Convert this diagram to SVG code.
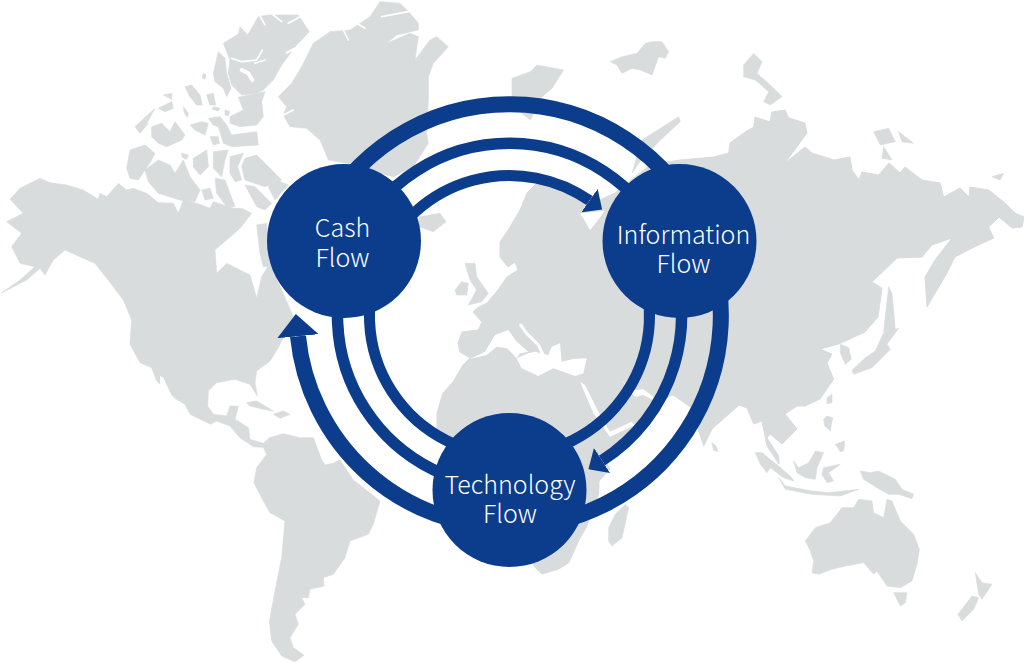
<svg xmlns="http://www.w3.org/2000/svg" width="1024" height="663" viewBox="0 0 1024 663">
<style>
.land{fill:#d9dcdd;stroke:#d9dcdd;stroke-width:1;stroke-linejoin:round}
.z3 .land{stroke-width:2}
.sea{fill:#fff}
.chan{fill:none;stroke:#fff;stroke-width:5;stroke-linejoin:round;stroke-linecap:round}
.arc{fill:none;stroke:#0b3d8c}
.a1{stroke-width:16}
.a2{stroke-width:11.5}
.a3{stroke-width:11}
.node{fill:#0b3d8c}
.lbl{fill:#fff;font-family:"Noto Sans CJK JP","Noto Sans",sans-serif;font-weight:300;font-size:25px;text-anchor:middle}
</style>
<defs>
<marker id="head" markerUnits="strokeWidth" markerWidth="1.4" markerHeight="2.6" viewBox="0 0 1.4 2.6" refX="0" refY="1.3" orient="auto"><path d="M0,0L1.4,1.3L0,2.6Z" fill="#0b3d8c"/></marker>
</defs>
<rect width="1024" height="663" fill="#fff"/>
<g id="map">
<g class="z3" transform="scale(.33333)">
<polygon class="land" points="30,598 60,565 120,535 150,548 200,555 250,570 295,598 300,580 320,590 355,550 380,570 400,565 440,580 475,608 520,610 535,640 550,600 590,610 630,625 640,605 700,625 725,625 755,640 720,685 645,750 650,820 680,790 750,825 770,895 785,830 810,790 880,950 835,1043 810,1083 770,1113 765,1148 772,1188 750,1153 705,1138 650,1148 625,1173 623,1218 640,1243 680,1248 690,1218 715,1218 705,1258 745,1283 750,1318 790,1330 808,1313 850,1301 900,1313 940,1313 965,1380 975,1395 1000,1390 1020,1380 1060,1440 1140,1503 1120,1573 1105,1603 1050,1623 1035,1673 1000,1723 970,1733 972,1758 930,1768 925,1793 905,1793 915,1813 885,1843 895,1873 870,1913 880,1943 912,1966 885,1985 845,1968 815,1923 808,1865 825,1773 845,1673 855,1563 810,1538 790,1503 762,1448 770,1403 800,1363 790,1342 760,1340 720,1313 690,1278 650,1263 632,1273 570,1243 555,1213 525,1195 470,1143 455,1103 420,1088 390,1033 395,960 370,900 340,860 285,790 240,770 195,750 160,780 135,825 120,805 80,840 3,880 60,840 105,800 60,790 35,740 65,700 20,665 70,640"/>
<polygon class="sea" points="480,1128 490,1133 525,1208 510,1198 480,1153"/>
<polygon class="land" points="770,675 800,670 810,800 790,800 780,760"/>
<polygon class="land" points="740,1208 770,1203 820,1233 790,1228 750,1218"/>
<polygon class="land" points="820,1243 850,1233 870,1243 840,1255"/>
<polygon class="land" points="835,290 875,250 905,200 940,130 990,95 1050,90 1110,50 1140,5 1200,10 1230,40 1255,70 1255,90 1190,105 1160,130 1230,100 1255,110 1245,180 1290,120 1310,110 1345,140 1300,190 1285,230 1285,300 1280,400 1285,430 1240,500 1180,530 1100,510 1040,490 985,480 960,420 920,385 870,380 850,345 860,320"/>
<polyline class="chan" points="1145,50 1225,35"/>
<polyline class="chan" points="1030,90 1045,120"/>
<polyline class="chan" points="1070,70 1095,85"/>
<polyline class="chan" points="850,345 880,330"/>
<polygon class="land" points="1258,650 1320,640 1338,665 1300,695 1258,680"/>
<polygon class="land" points="1365,870 1385,845 1405,850 1400,885 1370,885"/>
<polygon class="land" points="1395,790 1425,790 1430,830 1465,880 1445,905 1405,915 1430,870 1410,840"/>
<polygon class="land" points="1536,235 1591,215 1611,195 1691,210 1656,265 1626,290 1591,360 1566,340 1536,290"/>
<polygon class="land" points="1831,185 1866,170 1911,160 1936,130 1956,125 1986,125 2006,155 1996,175 1976,170 1956,225 1921,210 1896,205 1866,220 1851,195"/>
<polygon class="land" points="2231,195 2261,160 2286,185 2271,220 2311,255 2346,290 2311,315 2291,305 2306,275 2266,240 2231,230"/>
<polygon class="land" points="1926,420 2036,350 2041,365 1976,425 1916,490 1896,520"/>
<polygon class="land" points="2621,395 2666,385 2686,425 2641,435"/>
<polygon class="land" points="2696,395 2741,430 2706,425"/>
<polygon class="land" points="2651,440 2676,480 2646,475"/>
<polygon class="land" points="2976,530 3011,520 3000,540"/>
<polygon class="land" points="2651,996 2666,860 2676,880 2686,990"/>
<g transform="translate(1536,993)">
<polygon class="land" points="340,520 350,530 330,620 300,645 290,630 290,590 310,550"/>
<polygon class="land" points="600,335 612,345 618,362 605,358"/>
<polygon class="land" points="730,365 750,365 780,390 800,405 840,440 845,450 815,440 775,410 765,425 745,400"/>
<polygon class="land" points="800,440 820,465 900,480 950,485 1040,475 985,495 900,490 820,475"/>
<polygon class="land" points="845,390 860,410 890,395 910,360 935,365 915,410 910,445 880,440 855,425"/>
<polygon class="land" points="935,410 985,400 950,425 965,450 945,455 930,430"/>
<polygon class="land" points="945,200 960,190 960,215 945,218"/>
<polygon class="land" points="945,255 962,260 955,300 938,285 935,265"/>
<polygon class="land" points="970,340 998,330 995,360 985,362"/>
<polygon class="land" points="1045,420 1075,425 1100,420 1150,445 1170,475 1205,490 1200,503 1160,490 1130,490 1095,470 1055,445"/>
<polygon class="land" points="880,630 910,590 955,575 990,530 1025,530 1040,505 1080,510 1085,545 1115,560 1125,505 1140,510 1165,570 1205,610 1222,655 1215,700 1200,750 1165,770 1125,765 1095,720 1085,730 1055,695 1000,705 960,715 920,730 900,725 905,690 895,660"/>
<polygon class="land" points="1145,785 1185,785 1180,815 1165,825"/>
<polygon class="land" points="1390,725 1410,755 1440,760 1410,805 1400,790"/>
<polygon class="land" points="1380,795 1400,800 1385,835 1350,870 1338,850"/>
<polygon class="land" points="1025,130 1020,118 1060,80 1090,60 1115,5 1160,-8 1125,40 1135,55 1080,110"/>
<polygon class="land" points="985,40 1010,50 1018,85 1000,100 985,65"/>
</g>
</g>
<g class="z3" transform="translate(125,10) scale(.33333)">
<polygon class="land" points="295,100 340,72 345,50 368,75 400,20 430,15 520,15 553,65 515,105 500,125 470,165 445,210 415,240 395,250 350,255 320,225 310,190 315,150"/>
<polyline class="chan" points="320,145 350,155 395,150 412,120"/>
<polyline class="chan" points="390,160 420,150"/>
<polyline class="chan" style="stroke-width:12" points="350,180 370,190 382,210"/>
<polyline class="chan" points="405,18 420,45"/>
<polyline class="chan" points="445,15 470,35"/>
<polyline class="chan" points="490,40 525,20"/>
<polyline class="chan" style="stroke-width:7" points="485,128 530,105 556,90"/>
<polygon class="land" points="280,125 300,145 305,190 318,235 305,260 295,235 270,215 265,190"/>
<polygon class="land" points="180,230 200,225 225,255 232,285 215,285 195,260"/>
<polygon class="land" points="245,255 265,250 272,285 255,285"/>
<polygon class="land" points="235,190 243,195 240,208 232,205"/>
<polygon class="land" points="265,290 285,295 280,303 262,298"/>
<polygon class="land" points="300,300 315,305 310,318 300,315"/>
<polygon class="land" points="340,262 420,245 410,275 415,320 395,345 345,350 315,340 315,320 355,300"/>
<polygon class="land" points="5,475 15,420 60,405 90,430 80,450 40,510 15,505"/>
<polygon class="land" points="30,350 90,295 60,350 70,340 45,370"/>
<polygon class="land" points="100,295 140,275 145,295 120,305"/>
<polygon class="land" points="115,255 140,250 140,268"/>
<polygon class="land" points="80,350 110,340 135,365 150,335 180,375 170,390 125,410 100,400 80,380"/>
<polygon class="land" points="175,290 190,310 187,322 178,310"/>
<polygon class="land" points="195,345 230,335 250,340 240,375 210,360"/>
<polygon class="land" points="250,325 285,320 305,345 320,375 395,365 400,405 320,410 295,400 280,350 265,345"/>
<polygon class="land" points="255,380 280,380 283,400 265,405"/>
<polygon class="land" points="60,480 100,450 135,465 150,490 175,450 195,500 225,540 210,575 165,570 100,550 70,515"/>
<polygon class="land" points="265,425 310,420 300,450 290,500 265,475"/>
<polygon class="land" points="205,445 245,420 250,470 225,495 205,470"/>
<polygon class="land" points="315,440 355,430 338,470 350,510 330,515 315,490"/>
<polygon class="land" points="360,445 395,435 450,490 470,510 420,530 360,510 350,470"/>
<polygon class="land" points="170,430 190,435 185,448 172,442"/>
<polygon class="land" points="270,505 300,510 330,590 305,590 275,550"/>
<polygon class="land" points="360,525 390,530 420,560 440,580 420,600 395,590"/>
<polygon class="land" points="440,505 490,525 450,570 430,530"/>
<polygon class="land" points="230,540 255,535 265,565 240,570"/>
</g>
<polygon class="land" points="527,193 537,183 555,181 575,187 590,197 600,200 615,193 650,165 680,160 713.7,157 728.7,153 730,143 745,132 753.7,127 755,117 770,122 772,112 785,110 788.7,118 805,123 807,133 785,163 805,147 812,153 834,160 850,157 852,170 859,180 862,172 878.7,175 889,163 900,173 905,167 922,180 940,183 943.7,197 960,188 969,197 970,187 988.7,190 1005,203 1015,213 1024,217 1022,227 1012,228 999,217 988.7,227 993.7,238 972,248 955,257 947,273 927,307 925,277 935,260 952,238 932,245 922,257 897,258 872,282 882,288 878,317 865,332 838.7,344 820,349 832,354 827,363 833.7,379 820,399 805,406 797,406 785,414 797,429 782,444 770,434 767,438 778.7,456 779,464 767,446 762,421 753.7,424 747,408 739,405 712,429 703.7,446 698.7,431 692,408 673,395 658,401 631,437 605,460 610,469 599,481 598.7,494 586,528 580,538 568.7,562.7 558.7,569 542,574 535.3,567.7 520,540 480,480 437,431 437,413 443,393 453,382 463,365 470,358 460,352 458,343 462,332 478,330 482,322 473,312 477,308 487,303 498,290 500,287 507,277 518,270 515,262 508,267 500,257 500,242 510,227 520,210"/>
<g transform="translate(420,290) scale(.33333)">
<polygon class="sea" points="150,207 195,185 225,135 265,120 290,155 325,185 300,190 290,205 262,175 230,170 200,195"/>
<polygon class="sea" points="290,205 305,235 355,258 400,235 465,258 490,250 500,205 460,207 425,215 420,160 395,170 385,195 345,185 325,190"/>
<polyline class="chan" style="stroke-width:9" points="302,105 320,130 355,165 372,200"/>
</g>
<g transform="translate(560,300) scale(.33333)">
<polygon class="sea" points="60,245 75,255 120,345 150,395 215,365 225,375 150,410 135,390 100,340"/>
<polygon class="sea" points="185,240 205,262 225,270 250,268 285,295 320,295 320,305 280,300 250,285 225,290 205,270"/>
</g>
<g transform="translate(420,170) scale(.33333)">
<polygon class="sea" points="480,130 555,122 530,155 510,180 490,145"/>
</g>
</g>
<g id="connectors">
<path class="arc a1" d="M316.6,228.8A211.5,211.5 0 0 1 703,230.5"/>
<path class="arc a2" d="M352.6,245A172,172 0 0 1 667,246"/>
<path class="arc a3" d="M381.8,258A140,140 0 0 1 589.5,200.6" marker-end="url(#head)"/>
<path class="arc a1" d="M703,230.5A211.5,211.5 0 0 1 509.5,527"/>
<path class="arc a2" d="M667,246A172,172 0 0 1 602,460.5" marker-end="url(#head)"/>
<path class="arc a3" d="M637.7,259.2A140,140 0 0 1 509.5,455.5"/>
<path class="arc a1" d="M509.5,527A211.5,211.5 0 0 1 298,336.2" marker-end="url(#head)"/>
<path class="arc a2" d="M509.5,487.5A172,172 0 0 1 352.6,245"/>
<path class="arc a3" d="M509.5,455.5A140,140 0 0 1 381.8,258"/>
</g>
<g id="node-cash">
<circle class="node" cx="344" cy="241" r="77"/>
<text class="lbl"><tspan x="342.5" y="237">Cash</tspan><tspan x="342.5" y="266.5">Flow</tspan></text>
</g>
<g id="node-information">
<circle class="node" cx="679.5" cy="241" r="77"/>
<text class="lbl"><tspan x="683.5" y="244">Information</tspan><tspan x="683.5" y="273">Flow</tspan></text>
</g>
<g id="node-technology">
<circle class="node" cx="509.5" cy="490" r="77"/>
<text class="lbl"><tspan x="510" y="493.5">Technology</tspan><tspan x="510" y="523">Flow</tspan></text>
</g>
</svg>
